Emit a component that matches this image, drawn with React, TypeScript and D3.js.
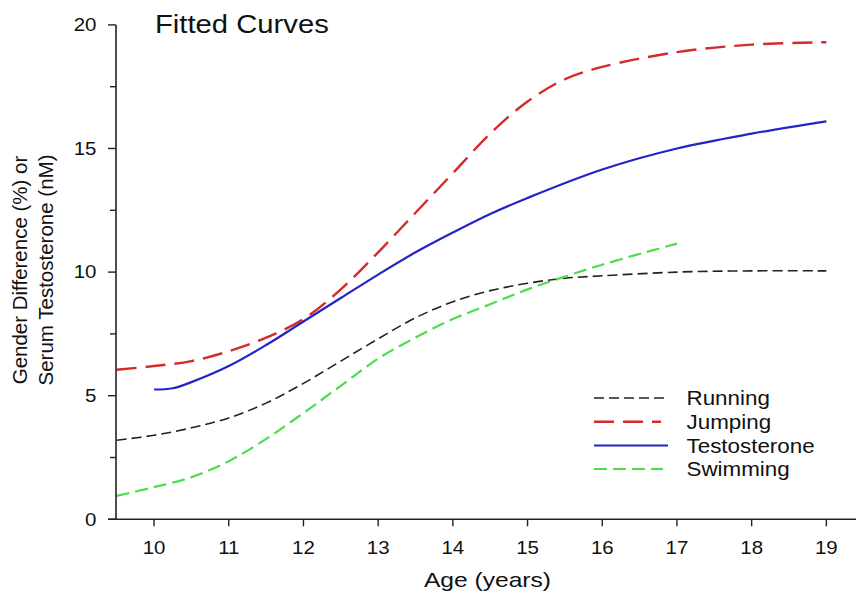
import React from "react";
import * as d3 from "d3";

const runningX = [9.5, 10, 10.5, 11, 11.5, 12, 12.5, 13, 13.5, 14, 14.5, 15, 15.5, 16, 17, 18, 19];
const runningY = [3.2, 3.4, 3.7, 4.1, 4.7, 5.5, 6.4, 7.3, 8.15, 8.8, 9.25, 9.55, 9.75, 9.85, 10.0, 10.05, 10.05];
const jumpingX = [9.5, 10, 10.5, 11, 11.5, 12, 12.5, 13, 13.5, 14, 14.5, 15, 15.5, 16, 17, 18, 19];
const jumpingY = [6.05, 6.2, 6.4, 6.8, 7.35, 8.1, 9.3, 10.8, 12.4, 14.0, 15.6, 16.9, 17.8, 18.3, 18.9, 19.2, 19.3];
const testoX = [10, 10.25, 10.5, 11, 11.5, 12, 12.5, 13, 13.5, 14, 14.5, 15, 16, 17, 18, 19];
const testoY = [5.25, 5.3, 5.55, 6.2, 7.05, 8.0, 8.95, 9.9, 10.8, 11.6, 12.35, 13.0, 14.15, 15.0, 15.6, 16.1];
const swimX = [9.5, 10, 10.5, 11, 11.5, 12, 12.5, 13, 13.5, 14, 14.5, 15, 16, 17];
const swimY = [0.95, 1.3, 1.7, 2.35, 3.25, 4.3, 5.4, 6.5, 7.35, 8.1, 8.7, 9.3, 10.3, 11.15];

const xTicks = [10, 11, 12, 13, 14, 15, 16, 17, 18, 19];
const yTicks = [0, 5, 10, 15, 20];
const yMinorTicks = [2.5, 7.5, 12.5, 17.5];

const seriesNames = ["Running", "Jumping", "Testosterone", "Swimming"];

const font = "Arial, 'Liberation Sans', sans-serif";

function HText(props: { x: number; y: number; sx: number; size: number; anchor?: string; children: React.ReactNode }) {
  const { x, y, sx, size, anchor, children } = props;
  return (
    <text transform={`translate(${x},${y}) scale(${sx},1)`} textAnchor={anchor || "start"} fontSize={size} fill="#111">
      {children}
    </text>
  );
}

export default function App() {
  const W = 856, H = 594;
  const x = d3.scaleLinear().domain([9.5, 19.5]).range([116.7, 863.7]);
  const y = d3.scaleLinear().domain([0, 20]).range([519.3, 24.9]);
  const line = d3.line<[number, number]>().x(d => x(d[0])).y(d => y(d[1])).curve(d3.curveCatmullRom.alpha(0.5));
  const zip = (a: number[], b: number[]) => a.map((v, i) => [v, b[i]] as [number, number]);

  const series = [
    { name: seriesNames[0], data: zip(runningX, runningY), color: "#222222", width: 1.6, dash: "10,5", lx2: 667 },
    { name: seriesNames[1], data: zip(jumpingX, jumpingY), color: "#d42a2a", width: 2.4, dash: "20,9", lx2: 661 },
    { name: seriesNames[2], data: zip(testoX, testoY), color: "#2323c8", width: 2.2, dash: "", lx2: 668 },
    { name: seriesNames[3], data: zip(swimX, swimY), color: "#4cdc4c", width: 2.2, dash: "13,6", lx2: 663 },
  ];
  const axX = 116;
  const axY = 519.3;
  const legendY = [398, 421.7, 445.5, 469];
  const sx = 1.17;

  return (
    <svg width={W} height={H} style={{ position: "absolute", left: 0, top: 0 }} fontFamily={font}>
      <rect width={W} height={H} fill="#fff" />
      {series.map(s => (
        <path key={s.name} d={line(s.data) || ""} fill="none" stroke={s.color} strokeWidth={s.width} strokeDasharray={s.dash || undefined} />
      ))}
      <line x1={axX} x2={axX} y1={y(20)} y2={axY} stroke="#222" strokeWidth={1.6} />
      <line x1={108} x2={W} y1={axY} y2={axY} stroke="#222" strokeWidth={1.6} />
      {yTicks.map(t => (
        <g key={"y" + t}>
          <line x1={108} x2={axX} y1={y(t)} y2={y(t)} stroke="#222" strokeWidth={1.4} />
          <HText x={96.5} y={y(t) + 6.3} sx={sx} size={17.5} anchor="end">{t}</HText>
        </g>
      ))}
      {yMinorTicks.map(t => (
        <line key={"ym" + t} x1={110} x2={axX} y1={y(t)} y2={y(t)} stroke="#222" strokeWidth={1.4} />
      ))}
      {xTicks.map(t => (
        <g key={"x" + t}>
          <line x1={x(t)} x2={x(t)} y1={axY} y2={axY + 7} stroke="#222" strokeWidth={1.4} />
          <HText x={x(t)} y={554} sx={sx} size={17.5} anchor="middle">{t}</HText>
        </g>
      ))}
      <HText x={487.5} y={587} sx={1.2} size={20.5} anchor="middle">Age (years)</HText>
      <g transform="translate(27,270) rotate(-90)">
        <text x={0} y={0} textAnchor="middle" fontSize={20.5} fill="#111">Gender Difference (%) or</text>
        <text x={0} y={26} textAnchor="middle" fontSize={20.5} fill="#111">Serum Testosterone (nM)</text>
      </g>
      <HText x={155} y={33} sx={1.17} size={25}>Fitted Curves</HText>
      {series.map((s, i) => {
        const ly = legendY[i];
        return (
          <g key={"lg" + s.name}>
            <line x1={594} x2={s.lx2} y1={ly} y2={ly} stroke={s.color} strokeWidth={s.width} strokeDasharray={s.dash || undefined} />
            <HText x={686.5} y={ly + 7} sx={1.12} size={20}>{s.name}</HText>
          </g>
        );
      })}
    </svg>
  );
}
